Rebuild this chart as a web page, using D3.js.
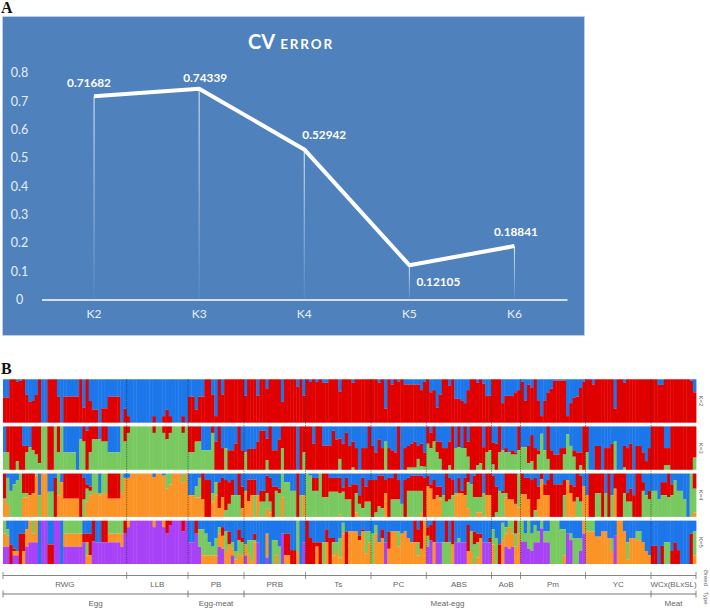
<!DOCTYPE html>
<html><head><meta charset="utf-8">
<script src="https://cdn.jsdelivr.net/npm/d3@7/dist/d3.min.js"></script>
<style>html,body{margin:0;padding:0;background:#fff}svg{display:block}</style>
</head><body><svg id="c" width="710" height="608"></svg>
<script>
// Panel A data
const cvCategories = ["K2","K3","K4","K5","K6"];
const cvValues = [0.71682,0.74339,0.52942,0.12105,0.18841];
const cvLabels = ["0.71682","0.74339","0.52942","0.12105","0.18841"];
const cvTicks = [0,0.1,0.2,0.3,0.4,0.5,0.6,0.7,0.8];

// Panel B data
const breeds = ["RWG","LLB","PB","PRB","Ts","PC","ABS","AoB","Pm","YC","WCx(BLxSL)"];
const breedEdges = [3,126.7,188,244,305.5,371,426.3,491.5,520.5,585.5,651,696];
const types = ["Egg","Egg-meat","Meat-egg","Meat"];
const typeEdges = [3,188,244,651,696];
const kNames = ["K=2","K=3","K=4","K=5"];
const kColors = [
  ["#1f77ea","#e00000"],
  ["#1f77ea","#e00000","#78c95f"],
  ["#1f77ea","#e00000","#78c95f","#fb9428"],
  ["#1f77ea","#e00000","#78c95f","#fb9428","#a842f7"]
];
// runs per breed: [columns, share of each cluster in %, last cluster takes the remainder]
const k2Runs = [
 [[2,42],[2,0],[1,5],[1,3],[1,0],[1,36],[1,52],[1,50],[1,36],[1,0],[2,100],[3,0],[1,40],[1,100],[5,40],[1,0],[1,65],[1,0],[1,50],[2,70],[1,100],[2,67],[4,40],[1,100],[1,68]],
 [[1,85],[7,100],[1,85],[2,100],[1,85],[1,70],[1,85],[3,100],[1,85],[1,100]],
 [[2,40],[1,70],[1,40],[1,40],[2,0],[1,35],[1,85],[1,0],[1,35],[6,0]],
 [[1,38],[3,0],[1,38],[2,0],[1,22],[4,0],[1,52],[4,0],[1,17],[1,0],[1,38]],
 [[1,0],[1,6],[1,0],[1,6],[1,0],[2,8],[3,0],[1,28],[3,0],[1,8],[5,0]],
 [[2,0],[1,8],[1,0],[1,68],[1,0],[1,12],[1,0],[1,5],[1,0],[5,12],[1,25],[1,5]],
 [[1,0],[1,30],[1,25],[1,65],[1,35],[2,0],[1,15],[1,0],[2,45],[1,50],[1,55],[1,25],[2,0],[1,8],[1,0],[1,10],[2,38]],
 [[3,0],[1,55],[3,38],[1,30],[1,25]],
 [[1,5],[1,50],[1,12],[1,20],[1,0],[1,50],[1,85],[1,50],[1,30],[1,22],[4,3],[1,85],[1,55],[1,42],[1,40],[1,20],[1,5]],
 [[2,0],[1,12],[6,0],[1,68],[2,0],[1,8],[8,0]],
 [[2,0],[2,13],[8,0],[1,3],[1,30]]
];
const k3Runs = [
 [[1,60,0],[1,0,60],[2,0,100],[1,0,80],[1,0,100],[1,44,56],[1,45,15],[1,48,0],[1,0,55],[1,0,65],[1,0,85],[2,0,0],[2,0,100],[1,0,0],[1,0,60],[1,0,0],[4,60,0],[1,100,0],[1,30,0],[1,0,35],[1,10,90],[1,0,60],[2,0,30],[1,30,0],[2,0,35],[4,60,0],[1,0,0],[1,0,35]],
 [[1,0,15],[7,0,0],[1,0,15],[2,0,0],[1,0,15],[1,0,30],[1,0,15],[3,0,0],[1,0,15],[1,0,0]],
 [[2,0,60],[2,0,35],[3,55,0],[1,0,15],[1,35,65],[1,0,100],[1,50,50],[1,50,0],[2,55,45],[1,40,60],[1,0,100],[1,55,45]],
 [[1,60,0],[3,52,48],[1,35,65],[2,10,90],[1,28,50],[1,0,100],[2,55,45],[1,30,70],[1,0,50],[4,0,100],[1,100,0],[1,0,100],[1,0,60]],
 [[2,0,100],[1,40,60],[2,0,100],[3,44,56],[1,10,90],[1,30,70],[1,28,47],[1,40,60],[1,15,85],[1,45,55],[1,35,60],[1,50,50],[1,100,0],[2,50,50],[1,0,100]],
 [[1,45,55],[1,60,40],[1,30,70],[1,50,50],[1,35,0],[1,50,50],[1,55,45],[1,60,40],[1,0,100],[1,100,0],[1,50,50],[1,45,50],[1,40,55],[1,35,60],[1,45,30],[1,40,52],[1,60,33]],
 [[1,0,40],[1,15,35],[1,0,35],[1,35,25],[1,35,40],[2,50,50],[1,35,55],[1,0,100],[1,50,0],[1,0,48],[1,50,0],[1,0,50],[1,35,35],[1,0,100],[1,0,100],[1,0,90],[1,0,85],[1,48,52],[1,0,60],[1,0,55]],
 [[1,38,50],[1,40,60],[1,0,60],[1,55,0],[1,50,10],[1,60,0],[1,55,10],[1,60,5],[1,0,55]],
 [[2,48,0],[1,45,40],[1,20,60],[1,50,50],[1,55,10],[1,17,0],[1,55,0],[1,0,75],[1,55,45],[2,65,35],[1,50,50],[1,50,15],[1,18,0],[1,45,0],[1,55,15],[1,60,40],[1,60,30],[1,0,100]],
 [[1,0,60],[2,100,0],[2,45,55],[1,100,0],[2,50,50],[1,40,60],[1,35,0],[1,100,0],[1,100,0],[1,45,50],[1,50,50],[1,40,60],[1,100,0],[2,45,55],[1,60,40],[1,80,20],[1,50,50]],
 [[4,0,100],[2,50,40],[7,0,100],[1,0,72]]
];
const k4Runs = [
 [[1,0,58,0],[1,10,0,60],[1,40,0,60],[1,25,0,75],[1,15,0,85],[1,0,0,100],[2,0,45,10],[1,0,50,0],[1,0,45,0],[1,0,0,5],[1,50,0,50],[2,0,0,0],[2,42,0,58],[1,10,90,0],[1,0,0,50],[1,20,0,0],[5,0,58,0],[1,0,100,0],[1,10,50,40],[1,25,10,30],[1,30,10,10],[1,0,0,45],[1,0,0,45],[1,45,0,5],[2,0,0,45],[4,0,58,0],[1,0,0,45],[1,10,0,0]],
 [[1,10,0,0],[7,0,0,0],[1,8,0,0],[2,0,0,0],[1,5,0,0],[1,0,0,35],[1,0,0,25],[3,0,0,0],[1,0,0,20],[1,0,0,0]],
 [[2,50,0,0],[1,30,0,25],[1,10,0,45],[1,0,60,0],[1,15,85,0],[1,15,85,0],[1,45,0,20],[1,20,0,30],[1,20,60,0],[1,10,45,0],[1,15,70,15],[1,20,50,30],[1,15,35,50],[1,50,0,50],[1,0,50,50],[1,30,50,0]],
 [[1,40,0,5],[1,14,50,0],[1,14,36,0],[1,14,36,50],[1,50,0,0],[2,40,25,35],[1,5,40,35],[1,10,55,25],[1,30,70,0],[1,30,10,60],[1,35,10,55],[1,0,0,55],[2,20,0,80],[2,40,0,60],[1,0,100,0],[1,50,0,50],[1,50,0,0]],
 [[1,0,0,100],[1,5,0,95],[2,10,30,60],[1,0,0,100],[2,0,55,45],[3,10,32,58],[1,10,35,50],[1,32,10,58],[1,10,50,40],[1,30,30,40],[1,25,75,0],[1,25,20,45],[1,50,20,30],[1,10,70,20],[1,30,35,35],[1,15,50,35]],
 [[1,15,85,0],[1,15,75,10],[1,5,70,25],[1,5,75,20],[1,15,30,0],[1,10,90,0],[1,10,50,40],[1,0,60,40],[1,15,45,40],[1,70,0,30],[1,15,85,0],[1,10,30,60],[3,5,35,60],[1,5,35,52],[1,10,90,0]],
 [[1,5,25,0],[1,25,10,0],[1,15,45,0],[1,30,20,0],[1,30,25,5],[1,50,0,50],[1,0,65,35],[1,10,50,40],[1,15,35,50],[1,45,0,5],[1,10,35,0],[1,40,5,0],[1,10,40,0],[1,0,20,60],[1,25,0,75],[1,5,50,45],[2,0,55,35],[1,45,0,55],[1,0,50,0],[1,0,50,0]],
 [[1,5,95,0],[1,30,60,10],[1,40,0,60],[1,40,5,55],[1,0,45,10],[1,0,60,0],[1,0,60,0],[1,0,70,0],[1,0,0,78]],
 [[1,0,48,0],[1,10,38,0],[1,10,50,0],[1,15,85,0],[1,10,75,15],[1,30,30,0],[1,0,13,0],[1,25,25,0],[1,15,35,0],[1,0,100,0],[3,25,75,0],[1,15,35,50],[1,15,0,0],[1,25,20,0],[1,30,35,0],[1,0,55,45],[1,5,60,35],[1,30,0,0]],
 [[1,50,0,0],[2,0,100,0],[2,0,45,55],[1,0,100,0],[1,45,0,55],[1,0,100,0],[1,50,0,50],[1,0,35,0],[2,0,100,0],[1,0,45,55],[1,45,20,35],[1,35,30,35],[1,50,50,0],[2,0,100,0],[1,20,20,60],[1,50,0,50],[1,40,20,40]],
 [[2,40,0,60],[1,60,0,40],[2,20,30,50],[1,0,55,45],[1,25,25,50],[1,15,0,85],[2,40,0,60],[1,60,0,40],[1,100,0,0],[1,0,0,100],[1,0,35,55]]
];
const k5Runs = [
 [[1,0,0,30,30],[1,20,0,15,25],[1,55,45,0,0],[1,65,5,0,10],[1,70,0,0,10],[1,30,70,0,0],[1,30,40,0,30],[1,20,0,0,40],[1,0,0,0,50],[1,0,0,30,20],[1,0,0,0,50],[1,100,0,0,0],[2,0,0,0,0],[2,55,45,0,0],[1,0,0,0,0],[1,0,0,0,0],[1,100,0,0,0],[5,0,0,30,30],[1,0,0,30,30],[1,30,20,0,0],[1,30,20,30,20],[1,30,50,0,20],[1,0,48,0,0],[1,50,0,0,0],[1,50,0,0,0],[2,0,50,0,0],[4,0,0,30,20],[1,0,0,30,30],[1,0,30,0,0]],
 [[1,0,0,0,15],[7,0,0,0,0],[1,0,0,0,15],[2,0,0,0,0],[1,0,0,0,15],[1,0,30,0,0],[1,0,10,0,0],[3,0,0,0,0],[1,0,25,0,0],[1,0,0,0,0]],
 [[2,50,0,0,0],[1,0,30,0,0],[1,20,0,40,0],[1,20,0,60,20],[1,30,0,50,20],[1,50,0,30,20],[1,60,0,20,20],[1,40,0,40,20],[1,15,0,15,30],[1,15,20,0,30],[1,25,0,45,30],[1,25,30,0,45],[1,50,0,15,15],[1,70,0,20,10],[1,20,25,30,25],[1,40,10,30,20]],
 [[1,55,0,0,25],[1,45,0,30,25],[1,45,0,50,5],[1,30,15,5,50],[1,50,0,0,0],[1,100,0,0,0],[1,100,0,0,0],[1,30,0,0,55],[1,100,0,0,0],[1,45,0,55,0],[1,45,0,35,20],[1,60,0,40,0],[1,30,0,0,0],[2,30,50,0,20],[2,68,32,0,0],[1,0,0,75,25],[1,100,0,0,0],[1,50,0,0,0]],
 [[1,0,100,0,0],[1,40,60,0,0],[1,50,50,0,0],[1,50,10,0,40],[1,50,50,0,0],[1,50,0,50,0],[1,20,30,0,50],[1,40,60,0,0],[1,40,10,30,20],[1,50,0,20,30],[1,40,0,45,15],[1,5,0,25,70],[1,25,75,0,0],[3,25,0,0,75],[1,35,10,0,55],[1,20,5,0,75],[1,25,0,50,25],[1,25,0,25,50]],
 [[1,30,0,70,0],[1,10,0,20,70],[1,50,0,0,50],[1,20,20,0,60],[1,50,0,0,0],[1,25,40,0,35],[2,25,0,0,75],[1,25,0,35,40],[1,30,0,0,70],[1,25,0,0,75],[1,40,0,0,60],[1,50,0,0,50],[1,0,50,0,50],[1,20,30,30,20],[1,0,65,0,35],[1,0,0,0,100]],
 [[1,15,20,25,0],[1,10,35,0,0],[1,0,50,0,50],[1,50,0,0,0],[1,50,0,0,0],[1,50,0,50,0],[1,0,50,50,0],[1,50,0,50,0],[1,0,55,0,45],[1,50,0,0,0],[1,40,0,10,0],[1,50,0,0,0],[1,50,0,0,0],[1,10,60,0,30],[1,25,0,45,30],[1,25,30,45,0],[1,30,20,35,15],[1,30,10,0,60],[1,50,0,0,0],[1,50,0,0,0],[1,40,10,0,0]],
 [[1,20,0,35,45],[1,40,0,60,0],[1,55,45,0,0],[1,5,0,40,55],[1,15,0,15,30],[1,0,0,15,50],[1,0,0,30,30],[1,0,30,30,40],[1,0,0,30,70]],
 [[1,0,0,48,0],[1,30,0,18,0],[1,0,0,65,0],[1,30,0,40,0],[1,10,0,40,0],[1,25,0,25,0],[1,0,0,18,0],[1,25,0,25,0],[1,25,0,25,0],[1,0,0,100,0],[2,0,0,100,0],[1,20,0,80,0],[1,20,0,60,20],[1,30,0,0,0],[1,30,0,15,0],[2,40,0,60,0],[1,40,0,30,0],[1,0,0,0,30]],
 [[1,0,0,25,75],[2,0,0,25,75],[2,37,0,0,63],[2,25,0,0,75],[1,40,0,0,60],[1,40,0,30,30],[1,35,0,0,0],[1,0,0,0,100],[1,0,0,0,100],[1,25,0,0,75],[1,50,0,40,10],[1,40,0,0,60],[1,40,0,0,60],[2,25,0,20,55],[1,50,0,0,50],[1,70,0,0,30],[1,80,0,0,20]],
 [[2,58,42,0,0],[1,100,0,0,0],[1,58,42,0,0],[2,50,0,50,0],[1,70,30,0,0],[1,50,50,0,0],[1,68,32,0,0],[3,100,0,0,0],[1,30,70,0,0],[1,25,0,55,20]]
];
const kRuns = [k2Runs,k3Runs,k4Runs,k5Runs];

const svg = d3.select("#c");
const defs = svg.append("defs");
defs.append("filter").attr("id","soft").attr("x","-2%").attr("y","-2%").attr("width","104%").attr("height","104%")
  .append("feGaussianBlur").attr("stdDeviation",0.45);
const g0 = defs.append("linearGradient").attr("id","drop").attr("x1",0).attr("x2",0).attr("y1",0).attr("y2",1);
g0.append("stop").attr("offset",0).attr("stop-color","#fff").attr("stop-opacity",0.85);
g0.append("stop").attr("offset",1).attr("stop-color","#fff").attr("stop-opacity",0.05);

const serif = "'Liberation Serif',serif", sans = "Lato,'Open Sans',sans-serif", arial = "'Liberation Sans',Arial,sans-serif";
svg.append("text").text("A").attr("x",1).attr("y",13).attr("font-family",serif).attr("font-weight",700).attr("font-size",16).attr("fill","#111");
svg.append("text").text("B").attr("x",1).attr("y",374).attr("font-family",serif).attr("font-weight",700).attr("font-size",16).attr("fill","#111");

// Panel A
svg.append("rect").attr("x",2.5).attr("y",16.5).attr("width",582).attr("height",319).attr("fill","#4f81bd").attr("stroke","#c9d6e8").attr("stroke-width",0.7);
const xA = d3.scaleBand().domain(cvCategories).range([41.5,567]);
const yA = d3.scaleLinear().domain([0,0.8]).range([299.5,72.7]);
const cx = c => xA(c)+xA.bandwidth()/2;

const title = svg.append("text").attr("x",291).attr("y",49).attr("text-anchor","middle").attr("fill","#fff").attr("font-family",sans).attr("font-weight",700);
title.append("tspan").text("CV").attr("font-size",20);
title.append("tspan").text(" ERROR").attr("font-size",13.5).attr("letter-spacing",1.8);

const axY = svg.append("g").attr("transform","translate(27,0)").call(d3.axisLeft(yA).tickValues(cvTicks).tickSize(0).tickPadding(0).tickFormat(d=>d===0?"0":d3.format(".1f")(d)));
axY.select(".domain").remove();
axY.selectAll("text").attr("fill","#e8eef7").attr("font-family",sans).attr("font-size",12.5).attr("text-anchor","middle").attr("x",-7.5);

const axX = svg.append("g").attr("transform","translate(0,299.5)").call(d3.axisBottom(xA).tickSize(0).tickPadding(10));
axX.select(".domain").attr("stroke","#fff").attr("stroke-width",1.4);
axX.selectAll("text").attr("fill","#e8eef7").attr("font-family",sans).attr("font-size",12);

svg.selectAll("rect.drop").data(cvCategories).join("rect").attr("class","drop")
  .attr("x",c=>cx(c)-0.5).attr("width",1)
  .attr("y",(c,i)=>yA(cvValues[i])).attr("height",(c,i)=>yA(0)-yA(cvValues[i])).attr("fill","url(#drop)");
svg.append("path").datum(cvValues)
  .attr("d",d3.line().x((d,i)=>cx(cvCategories[i])).y(d=>yA(d)))
  .attr("fill","none").attr("stroke","#fff").attr("stroke-width",4).attr("stroke-linejoin","round");
const labelOffsets = [[-5,-9.5],[6,-7],[20,-10],[29,21],[1.5,-10]];
svg.selectAll("text.val").data(cvLabels).join("text").attr("class","val").text(d=>d)
  .attr("x",(d,i)=>cx(cvCategories[i])+labelOffsets[i][0])
  .attr("y",(d,i)=>yA(cvValues[i])+labelOffsets[i][1])
  .attr("text-anchor","middle").attr("fill","#fff").attr("font-family",sans).attr("font-weight",700).attr("font-size",11.8);

// Panel B
const rowY = d3.scaleBand().domain(kNames).range([379.3,564]).paddingInner(0.08);
const bars = svg.append("g").attr("filter","url(#soft)");
kRuns.forEach((runs,ki)=>{
  const name = kNames[ki], colors = kColors[ki];
  const y = d3.scaleLinear().domain([0,100]).range([rowY(name),rowY(name)+rowY.bandwidth()]);
  const row = bars.append("g");
  runs.forEach((breedRuns,bi)=>{
    const cols = breedRuns.flatMap(r=>d3.range(r[0]).map(()=>r.slice(1)));
    const x = d3.scaleLinear().domain([0,cols.length]).range([breedEdges[bi],breedEdges[bi+1]]);
    cols.forEach((vals,ci)=>{
      const shares = vals.concat([Math.max(0,100-d3.sum(vals))]);
      const ends = Array.from(d3.cumsum(shares));
      shares.forEach((s,si)=>{
        if(s<=0) return;
        const end = Math.min(100,ends[si]);
        row.append("rect").attr("x",x(ci)).attr("width",x(ci+1)-x(ci)+0.4)
          .attr("y",y(end-s)).attr("height",Math.max(0,y(end)-y(end-s)))
          .attr("fill",colors[si]);
      });
    });
  });
  svg.append("text").text(name)
    .attr("transform",`translate(699,${rowY(name)+rowY.bandwidth()/2}) rotate(90)`)
    .attr("text-anchor","middle").attr("font-family",arial).attr("font-size",6).attr("fill","#666");
});
breedEdges.slice(1,-1).forEach(e=>{
  svg.append("line").attr("x1",e).attr("x2",e).attr("y1",rowY(kNames[0])).attr("y2",rowY(kNames[3])+rowY.bandwidth())
    .attr("stroke","#222").attr("stroke-width",0.7).attr("stroke-dasharray","1.2,1.2").attr("opacity",0.85);
});

function bracket(edges,labels,yLine,yText,color,fs){
  const g = svg.append("g");
  g.append("line").attr("x1",edges[0]).attr("x2",edges[edges.length-1]).attr("y1",yLine).attr("y2",yLine).attr("stroke",color).attr("stroke-width",0.9);
  g.selectAll("line.t").data(edges).join("line").attr("class","t").attr("x1",d=>d).attr("x2",d=>d).attr("y1",yLine-3.5).attr("y2",yLine+3.5).attr("stroke",color).attr("stroke-width",0.8);
  g.selectAll("text").data(labels).join("text").text(d=>d)
    .attr("x",(d,i)=>(edges[i]+edges[i+1])/2).attr("y",yText).attr("text-anchor","middle")
    .attr("font-family",arial).attr("font-size",fs).attr("fill","#666");
}
bracket(breedEdges,breeds,575.5,587,"#777",8);
bracket(typeEdges,types,594,606,"#666",8);
[["Breed",578],["Type",598]].forEach(([t,y])=>{
  svg.append("text").text(t).attr("transform",`translate(704,${y}) rotate(90)`).attr("text-anchor","middle")
    .attr("font-family",arial).attr("font-size",6).attr("fill","#666");
});
</script></body></html>
